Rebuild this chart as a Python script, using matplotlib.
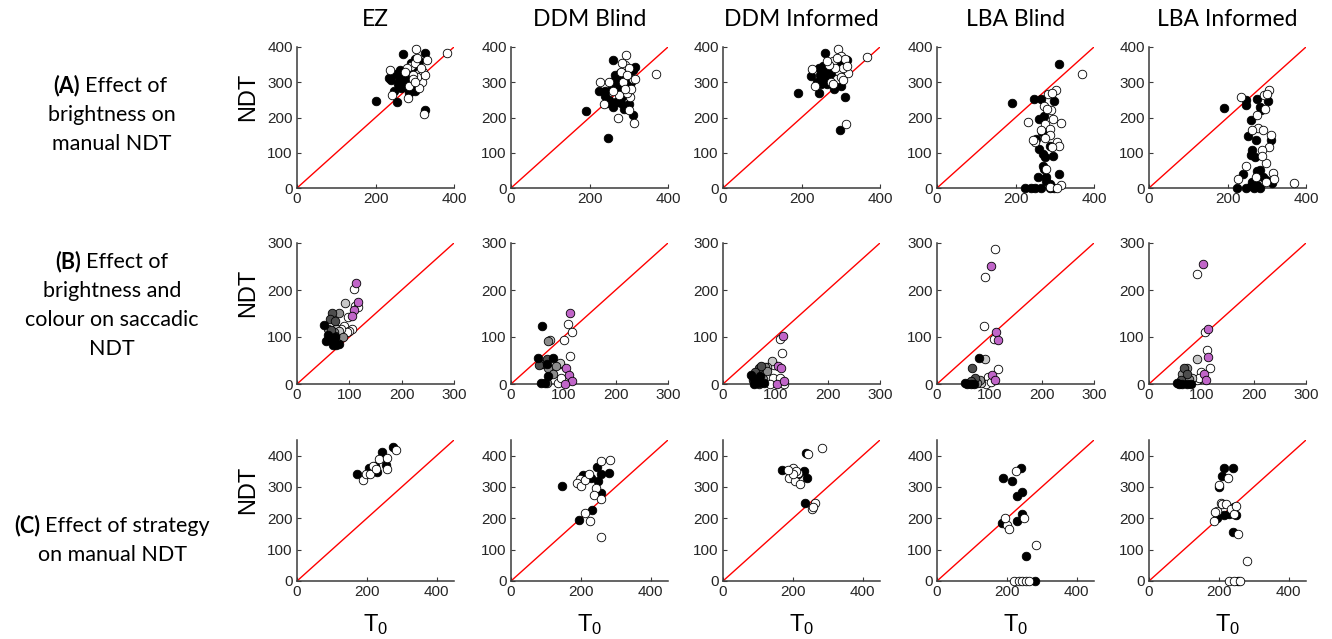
import matplotlib
matplotlib.use("Agg")
import matplotlib.pyplot as plt

plt.rcParams['font.family'] = ['Liberation Sans', 'DejaVu Sans']
plt.rcParams['mathtext.default'] = 'regular'

models = ["EZ", "DDM Blind", "DDM Informed", "LBA Blind", "LBA Informed"]

# ---- row A: (T0, NDT, filled) ----
A_EZ = [(200,247,1),(255,244,1),(270,381,1),(327,384,1),(325,222,1),(235,313,1),(248,275,1),
        (300,365,1),(280,310,1),(270,330,1),(260,300,1),(285,320,1),(275,290,1),(262,310,1),
        (300,275,1),(290,340,1),(305,350,1),(263,335,1),(270,300,1),(282,280,1),(295,300,1),
        (310,340,1),(265,285,1),(285,270,1),(300,330,1),(275,320,1),(258,295,1),(290,355,1),
        (310,360,1),(252,322,1),(268,318,1),(278,302,1),(292,288,1),(303,322,1),(240,305,1),
        (383,384,0),(303,395,0),(237,336,0),(242,265,0),(323,211,0),(283,254,0),(330,362,0),
        (319,301,0),(310,325,0),(290,345,0),(320,330,0),(305,315,0),(285,290,0),(295,320,0),
        (280,340,0),(300,355,0),(310,285,0),(325,320,0),(305,370,0),(275,330,0),(295,310,0),
        (315,340,0),(300,300,0)]
A_DDMB = [(191,219,1),(248,143,1),(261,362,1),(312,206,1),(225,275,1),(317,343,1),(300,237,1),
          (287,225,1),(260,230,1),(240,260,1),(250,250,1),(270,290,1),(280,310,1),(290,330,1),
          (300,320,1),(265,320,1),(255,300,1),(275,270,1),(285,260,1),(295,290,1),(245,240,1),
          (268,245,1),(310,335,1),(278,325,1),(258,285,1),(288,295,1),(240,275,1),(305,300,1),
          (270,300,1),(280,240,1),
          (369,322,0),(292,377,0),(227,302,0),(272,199,0),(314,184,0),(304,258,0),(236,237,0),
          (290,350,0),(300,340,0),(285,300,0),(295,270,0),(305,280,0),(310,310,0),(275,265,0),
          (280,330,0),(300,220,0),(290,280,0),(315,310,0),(260,275,0),(250,300,0),(295,320,0),
          (283,355,0)]
A_DDMI = [(192,270,1),(259,383,1),(298,164,1),(311,258,1),(245,270,1),(315,362,1),(284,282,1),
          (223,317,1),(240,300,1),(255,330,1),(265,345,1),(270,320,1),(260,310,1),(250,295,1),
          (275,335,1),(285,350,1),(290,355,1),(262,300,1),(268,330,1),(278,310,1),(255,345,1),
          (300,290,1),(248,320,1),(272,340,1),(245,340,1),(282,325,1),(295,345,1),(258,322,1),
          (305,355,1),(265,295,1),
          (367,372,0),(313,181,0),(292,393,0),(227,337,0),(234,289,0),(319,326,0),(280,360,0),
          (300,375,0),(295,330,0),(305,340,0),(290,310,0),(275,300,0),(310,365,0),(285,340,0),
          (300,315,0),(270,350,0),(315,345,0),(305,305,0),(280,295,0),(290,370,0),(265,360,0)]
A_LBAB = [(190,242,1),(312,353,1),(247,253,1),(264,253,1),(297,247,1),(260,195,1),(273,203,1),
          (268,159,1),(253,140,1),(287,119,1),(260,112,1),(270,97,1),(295,90,1),(276,88,1),
          (270,62,1),(272,55,1),(312,41,1),(257,31,1),(278,31,1),(278,19,1),(224,0,1),(240,0,1),
          (249,0,1),(266,0,1),(289,0,1),(297,0,1),(287,12,1),
          (369,324,0),(232,187,0),(316,184,0),(304,279,0),(283,266,0),(293,269,0),(272,232,0),
          (291,220,0),(281,223,0),(295,197,0),(276,182,0),(287,166,0),(265,164,0),(287,149,0),
          (274,142,0),(306,130,0),(310,118,0),(294,116,0),(249,130,0),(278,55,0),(316,8,0),
          (287,3,0),(306,0,0),(245,137,0)]
A_LBAI = [(192,228,1),(248,251,1),(246,235,1),(274,252,1),(302,247,1),(283,230,1),(285,220,1),
          (259,194,1),(253,147,1),(272,137,1),(311,137,1),(263,107,1),(259,93,1),(270,88,1),
          (240,41,1),(276,48,1),(284,50,1),(290,31,1),(297,24,1),(314,14,1),(224,0,1),(246,0,1),
          (259,7,1),(267,0,1),(276,8,1),(284,0,1),(263,17,1),
          (234,258,0),(294,265,0),(305,279,0),(300,268,0),(278,170,0),(291,164,0),(310,149,0),
          (305,116,0),(288,109,0),(262,164,0),(276,206,0),(295,225,0),(248,62,0),(228,25,0),
          (297,71,0),(315,43,0),(318,26,0),(369,14,0),(297,17,0),(272,31,0),(287,90,0)]

# ---- row B: (T0, NDT, group) group: 0 black .. 4 white, 5 purple ----
B_EZ = [(52,125,0),(60,104,0),(66,91,0),(73,101,0),(81,86,0),(55,91,0),(68,82,0),(74,84,0),
        (62,95,0),(70,92,0),
        (67,151,1),(63,138,1),(73,135,1),(73,103,1),(65,115,1),
        (60,116,2),(81,151,2),(87,101,2),(70,110,2),
        (92,172,3),(75,118,3),(80,112,3),
        (108,203,4),(97,142,4),(90,123,4),(105,116,4),(100,112,4),(111,167,4),(117,164,4),
        (74,116,4),(68,109,4),(95,110,4),(85,118,4),
        (112,215,5),(116,174,5),(109,157,5),(105,144,5)]
B_DDMB = [(60,124,0),(52,55,0),(81,55,0),(68,43,0),(70,18,0),(57,2,0),(65,2,0),
          (59,43,1),(68,53,1),(54,40,1),
          (71,92,2),(71,34,2),(86,39,2),(81,22,2),(69,2,2),
          (75,94,3),(94,45,3),
          (108,128,4),(117,111,4),(102,93,4),(113,59,4),(94,43,4),(90,2,4),(95,12,4),
          (113,151,5),(106,33,5),(110,19,5),(116,6,5),(103,1,5)]
B_DDMI = [(53,20,0),(59,11,0),(60,1,0),(70,18,0),(68,2,0),(79,2,0),
          (68,34,1),(73,39,1),(57,9,1),(62,25,1),
          (68,1,2),(81,36,2),(85,27,2),(76,10,2),
          (93,49,3),(84,36,3),
          (109,96,4),(112,67,4),(98,40,4),(95,13,4),(108,13,4),(117,1,4),(90,1,4),
          (114,103,5),(106,38,5),(111,33,5),(104,1,5),(117,7,5)]
B_LBAB = [(80,56,0),(53,2,0),(58,1,0),(65,1,0),(70,1,0),
          (67,33,1),(73,12,1),(65,7,1),
          (82,8,2),(76,2,2),
          (92,53,3),(85,2,3),
          (111,287,4),(92,227,4),(90,124,4),(108,96,4),(116,32,4),(97,15,4),(94,1,4),(103,4,4),
          (103,251,5),(113,111,5),(116,94,5),(106,19,5),(110,8,5)]
B_LBAI = [(53,2,0),(58,1,0),(64,1,0),(72,1,0),(80,1,0),
          (67,33,1),(72,22,1),(62,9,1),
          (72,33,2),(63,21,2),(77,11,2),
          (92,54,3),(83,12,3),
          (92,235,4),(107,111,4),(111,73,4),(117,33,4),(100,25,4),(92,9,4),(96,12,4),
          (103,255,5),(113,116,5),(113,57,5),(106,22,5),(109,9,5)]

# ---- row C: (T0, NDT, filled) ----
C_EZ = [(171,340,1),(245,412,1),(276,429,1),(230,347,1),(206,361,1),(223,366,1),(255,369,1),
        (283,419,0),(190,321,0),(197,342,0),(209,340,0),(219,368,0),(235,390,0),(258,359,0),
        (258,392,0),(226,358,0)]
C_DDMB = [(146,303,1),(207,337,1),(247,363,1),(257,342,1),(249,319,1),(257,282,1),(281,345,1),
          (231,227,1),(194,194,1),(228,329,1),
          (257,384,0),(284,387,0),(197,324,0),(189,313,0),(202,303,0),(212,321,0),(223,343,0),
          (245,298,0),(238,273,0),(259,261,0),(213,216,0),(226,192,0),(259,139,0)]
C_DDMI = [(170,355,1),(239,410,1),(240,330,1),(236,250,1),(215,340,1),(232,350,1),
          (200,360,0),(190,330,0),(205,320,0),(215,345,0),(220,310,0),(245,405,0),(285,425,0),
          (265,250,0),(254,229,0),(258,235,0),(210,350,0),(200,340,0),(185,355,0)]
C_LBAB = [(190,330,1),(215,320,1),(240,360,1),(230,270,1),(245,285,1),(230,190,1),(185,185,1),
          (245,215,1),(255,80,1),(280,0,1),
          (225,350,0),(200,180,0),(205,165,0),(250,200,0),(285,115,0),(220,0,0),(235,0,0),
          (245,0,0),(255,0,0),(265,0,0),(195,200,0)]
C_LBAI = [(195,200,1),(215,210,1),(200,300,1),(210,335,1),(215,360,1),(230,215,1),(240,155,1),
          (245,235,1),(255,0,1),(250,210,1),(240,360,1),
          (185,190,0),(195,225,0),(205,250,0),(210,245,0),(220,245,0),(235,230,0),(245,215,0),
          (250,240,0),(255,150,0),(280,65,0),(230,0,0),(245,0,0),(260,0,0),(225,330,0),
          (190,220,0),(200,305,0)]

rows = [
    ([A_EZ, A_DDMB, A_DDMI, A_LBAB, A_LBAI], 400, 400, [0, 200, 400], [0, 100, 200, 300, 400]),
    ([B_EZ, B_DDMB, B_DDMI, B_LBAB, B_LBAI], 300, 300, [0, 100, 200, 300], [0, 100, 200, 300]),
    ([C_EZ, C_DDMB, C_DDMI, C_LBAB, C_LBAI], 450, 450, [0, 200, 400], [0, 100, 200, 300, 400]),
]

group_colors = ['#000000', '#4d4d4d', '#8c8c8c', '#c8c8c8', '#ffffff', '#c065c8']

W, H = 1332, 639
fig = plt.figure(figsize=(W / 100, H / 100), dpi=100)

col_left = [297, 511, 723, 937, 1149]
row_top = [47, 243, 440]
ax_w, ax_h = 157, 141

for r, (panels, xmax, ymax, xt, yt) in enumerate(rows):
    for c, pts in enumerate(panels):
        x0 = col_left[c]
        y0 = row_top[r]
        ax = fig.add_axes([x0 / W, 1 - (y0 + ax_h) / H, ax_w / W, ax_h / H])
        ax.plot([0, xmax], [0, ymax], color='red', lw=1, zorder=1)
        if r == 1:
            for g in [4, 3, 2, 1, 0, 5]:
                sub = [p for p in pts if p[2] == g]
                ax.scatter([p[0] for p in sub], [p[1] for p in sub], s=38,
                           facecolor=group_colors[g], edgecolor='black', lw=0.6,
                           zorder=3, clip_on=False)
        else:
            for f in [1, 0]:
                sub = [p for p in pts if p[2] == f]
                ax.scatter([p[0] for p in sub], [p[1] for p in sub], s=38,
                           facecolor='black' if f else 'white', edgecolor='black',
                           lw=0.6, zorder=3, clip_on=False)
        ax.set_xlim(0, xmax)
        ax.set_ylim(0, ymax)
        ax.set_xticks(xt)
        ax.set_yticks(yt)
        for s in ['top', 'right']:
            ax.spines[s].set_visible(False)
        for s in ['left', 'bottom']:
            ax.spines[s].set_color('#3a3a3a')
            ax.spines[s].set_linewidth(1.1)
        ax.tick_params(direction='in', length=3, width=0.8, color='#3a3a3a',
                       labelsize=11, labelcolor='#262626', pad=3)
        ax.set_facecolor('none')
        if r == 0:
            fig.text((x0 + ax_w / 2) / W, 1 - 20 / H, models[c], ha='center', va='center',
                     fontsize=16.5, family=['Lato', 'DejaVu Sans'])
        if r == 2:
            fig.text((x0 + ax_w / 2) / W, 1 - 625 / H, 'T$_0$', ha='center', va='center',
                     fontsize=17)
    fig.text(248 / W, 1 - (row_top[r] + 50) / H, 'NDT', rotation=90, ha='center',
             va='center', fontsize=17)

# row labels
lab_font = ['Lato', 'DejaVu Sans']
def row_label(tag, first, rest, cx, y_first, dy):
    fig.text(cx / W, 1 - y_first / H, tag, ha='right', va='center', fontsize=15.5,
             fontweight='bold', family=lab_font)
    fig.text((cx + 5) / W, 1 - y_first / H, first, ha='left', va='center', fontsize=15.5,
             family=lab_font)
    for i, line in enumerate(rest):
        fig.text(112 / W, 1 - (y_first + dy * (i + 1)) / H, line, ha='center', va='center',
                 fontsize=15.5, family=lab_font)

row_label('(A)', 'Effect of', ['brightness on', 'manual NDT'], 80, 86, 29)
row_label('(B)', 'Effect of', ['brightness and', 'colour on saccadic', 'NDT'], 81, 262, 29)
row_label('(C)', 'Effect of strategy', ['on manual NDT'], 40, 526, 29)

fig.savefig('out.png', dpi=100)
